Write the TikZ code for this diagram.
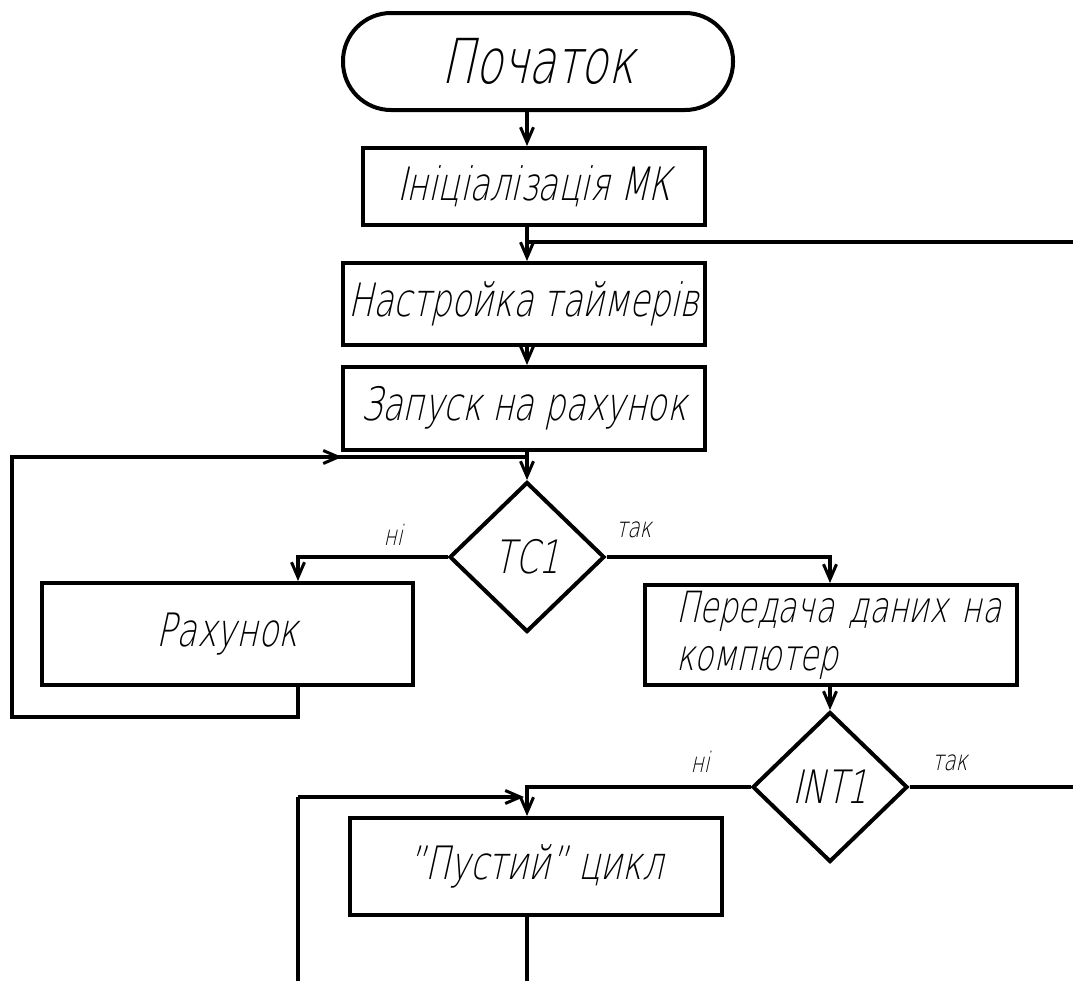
\documentclass[tikz,border=0pt]{standalone}
\usepackage{fontspec}
\setmainfont{DejaVu Sans ExtraLight}[FakeStretch=0.72, FakeSlant=0.22]
\usetikzlibrary{shapes.geometric, arrows.meta}

\begin{document}
\begin{tikzpicture}[x=1pt, y=-1pt,
  every node/.style={line width=4pt},
  conn/.style={line width=3.6pt},
  arr/.style={conn, -{Straight Barb[length=15pt, width=13pt, line width=3pt]}},
  term/.style={draw, rectangle, rounded corners=48pt, inner sep=0pt,
    font=\fontsize{62}{66}\selectfont},
  proc/.style={draw, rectangle, inner sep=0pt,
    font=\fontsize{46}{50}\selectfont},
  dec/.style={draw, diamond, inner sep=0pt, minimum width=155pt,
    minimum height=150pt, font=\fontsize{46}{50}\selectfont},
  lbl/.style={font=\fontsize{28}{30}\selectfont, inner sep=0pt}]

\useasboundingbox (0,0) rectangle (1073,980);
\clip (0,0) rectangle (1073,980);

% blocks of the algorithm
\node[term, minimum width=390pt, minimum height=97pt] (start) at (538,61.5) {Початок};
\node[proc, minimum width=342pt, minimum height=77pt] (init) at (534,186.5) {Ініціалізація МК};
\node[proc, minimum width=362pt, minimum height=82pt] (nast) at (524,304) {Настройка таймерів};
\node[proc, minimum width=362pt, minimum height=83pt] (zap) at (524,408.5) {Запуск на рахунок};
\node[dec] (tc1) at (527,557) {ТС1};
\node[proc, minimum width=371pt, minimum height=102pt] (rakh) at (227.5,634) {Рахунок};
\node[proc, minimum width=372pt, minimum height=100pt, text width=310pt,
  align=left, font=\fontsize{43}{48}\selectfont] (pered) at (831,635)
  {Передача~даних~на\\компютер};
\node[dec] (int1) at (830,787) {INT1};
\node[proc, minimum width=372pt, minimum height=97pt] (pusty) at (536,866.5)
  {\char"22 Пустий\char"22{} цикл};

% branch labels
\node[lbl] (l1) at (393,535) {ні};
\node[lbl] (l2) at (634,530) {так};
\node[lbl] (l3) at (700,762) {ні};
\node[lbl] (l4) at (950,763) {так};

% helper points for the loops
\coordinate (jtop) at (527,242);
\coordinate (jmid) at (527,457);
\coordinate (rr) at (1095,0);
\coordinate (bb) at (0,1000);

% main flow
\draw[arr] (start.south -| tc1) -- (init.north -| tc1);
\draw[arr] (init.south -| tc1) -- (nast.north -| tc1);
\draw[arr] (nast.south -| tc1) -- (zap.north -| tc1);
\draw[arr] (zap.south -| tc1) -- (tc1.north);
\draw[arr] (tc1.west) -| ([xshift=70.5pt]rakh.north);
\draw[arr] (tc1.east) -| (pered.north -| int1);
\draw[arr] (pered.south -| int1) -- (int1.north);
\draw[arr] (int1.west) -| (pusty.north -| tc1);

% return from "Рахунок" to the TC1 check
\draw[conn] ([xshift=70.5pt]rakh.south) |- (12,717) -- (12,457) -- (jmid);
\draw[arr] (12,457) -- (342,457);

% return from INT1 (так) to timer setup
\draw[conn] (int1.east) -- (int1.east -| rr) -- (rr |- jtop) -- (jtop);

% idle loop around "Пустий" цикл
\draw[conn] (pusty.south -| tc1) -- (bb -| tc1) -- (298,1000) -- (298,797);
\draw[arr] (298,797) -- (524,797);
\end{tikzpicture}
\end{document}
